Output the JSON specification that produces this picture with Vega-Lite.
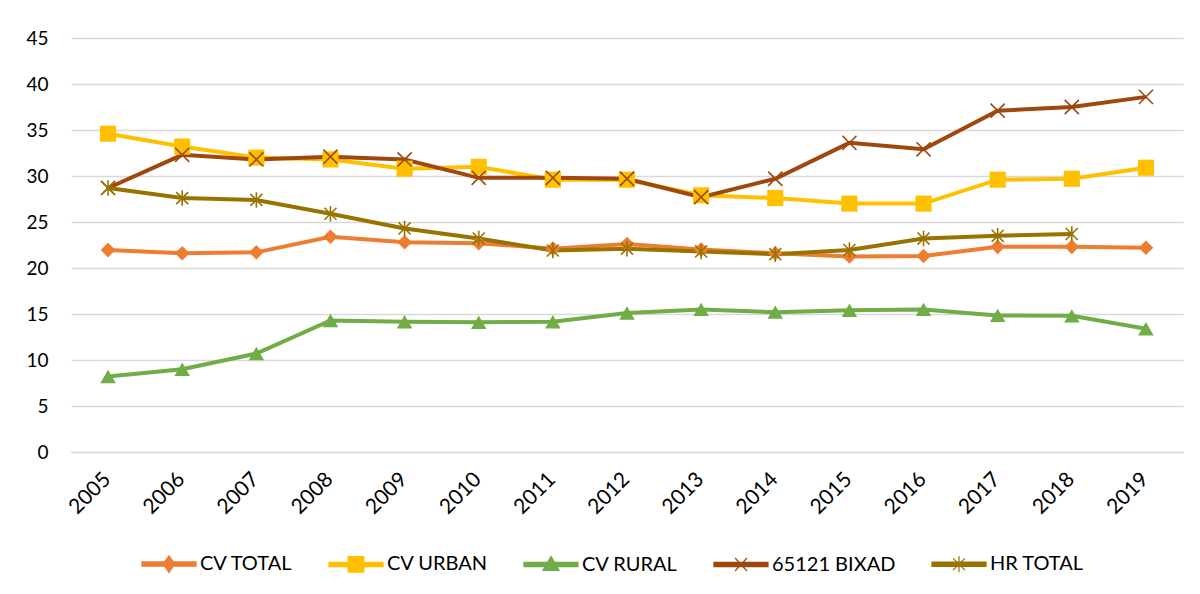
{
  "$schema": "https://vega.github.io/schema/vega-lite/v6.json",
  "width": 1112,
  "height": 414,
  "autosize": {"type": "none"},
  "padding": {"left": 71, "top": 38, "right": 17, "bottom": 142},
  "background": "white",
  "config": {
    "view": {"stroke": null},
    "font": "Lato",
    "axis": {"labelFont": "Lato", "labelColor": "#000000", "title": null}
  },
  "data": {
    "values": [
      {"year": "2005", "series": "CV TOTAL", "value": 21.95},
      {"year": "2006", "series": "CV TOTAL", "value": 21.6},
      {"year": "2007", "series": "CV TOTAL", "value": 21.7},
      {"year": "2008", "series": "CV TOTAL", "value": 23.4},
      {"year": "2009", "series": "CV TOTAL", "value": 22.8},
      {"year": "2010", "series": "CV TOTAL", "value": 22.7},
      {"year": "2011", "series": "CV TOTAL", "value": 22.1},
      {"year": "2012", "series": "CV TOTAL", "value": 22.6},
      {"year": "2013", "series": "CV TOTAL", "value": 22.0},
      {"year": "2014", "series": "CV TOTAL", "value": 21.6},
      {"year": "2015", "series": "CV TOTAL", "value": 21.25},
      {"year": "2016", "series": "CV TOTAL", "value": 21.3},
      {"year": "2017", "series": "CV TOTAL", "value": 22.3},
      {"year": "2018", "series": "CV TOTAL", "value": 22.3},
      {"year": "2019", "series": "CV TOTAL", "value": 22.2},
      {"year": "2005", "series": "CV URBAN", "value": 34.6},
      {"year": "2006", "series": "CV URBAN", "value": 33.2},
      {"year": "2007", "series": "CV URBAN", "value": 32.0},
      {"year": "2008", "series": "CV URBAN", "value": 31.8},
      {"year": "2009", "series": "CV URBAN", "value": 30.8},
      {"year": "2010", "series": "CV URBAN", "value": 31.0},
      {"year": "2011", "series": "CV URBAN", "value": 29.6},
      {"year": "2012", "series": "CV URBAN", "value": 29.6},
      {"year": "2013", "series": "CV URBAN", "value": 27.9},
      {"year": "2014", "series": "CV URBAN", "value": 27.6},
      {"year": "2015", "series": "CV URBAN", "value": 27.0},
      {"year": "2016", "series": "CV URBAN", "value": 27.0},
      {"year": "2017", "series": "CV URBAN", "value": 29.6},
      {"year": "2018", "series": "CV URBAN", "value": 29.7},
      {"year": "2019", "series": "CV URBAN", "value": 30.9},
      {"year": "2005", "series": "CV RURAL", "value": 8.2},
      {"year": "2006", "series": "CV RURAL", "value": 9.0},
      {"year": "2007", "series": "CV RURAL", "value": 10.7},
      {"year": "2008", "series": "CV RURAL", "value": 14.3},
      {"year": "2009", "series": "CV RURAL", "value": 14.15},
      {"year": "2010", "series": "CV RURAL", "value": 14.1},
      {"year": "2011", "series": "CV RURAL", "value": 14.15},
      {"year": "2012", "series": "CV RURAL", "value": 15.1},
      {"year": "2013", "series": "CV RURAL", "value": 15.5},
      {"year": "2014", "series": "CV RURAL", "value": 15.2},
      {"year": "2015", "series": "CV RURAL", "value": 15.4},
      {"year": "2016", "series": "CV RURAL", "value": 15.5},
      {"year": "2017", "series": "CV RURAL", "value": 14.85},
      {"year": "2018", "series": "CV RURAL", "value": 14.8},
      {"year": "2019", "series": "CV RURAL", "value": 13.4},
      {"year": "2005", "series": "65121 BIXAD", "value": 28.7},
      {"year": "2006", "series": "65121 BIXAD", "value": 32.3},
      {"year": "2007", "series": "65121 BIXAD", "value": 31.8},
      {"year": "2008", "series": "65121 BIXAD", "value": 32.1},
      {"year": "2009", "series": "65121 BIXAD", "value": 31.8},
      {"year": "2010", "series": "65121 BIXAD", "value": 29.8},
      {"year": "2011", "series": "65121 BIXAD", "value": 29.8},
      {"year": "2012", "series": "65121 BIXAD", "value": 29.7},
      {"year": "2013", "series": "65121 BIXAD", "value": 27.7},
      {"year": "2014", "series": "65121 BIXAD", "value": 29.7},
      {"year": "2015", "series": "65121 BIXAD", "value": 33.6},
      {"year": "2016", "series": "65121 BIXAD", "value": 32.9},
      {"year": "2017", "series": "65121 BIXAD", "value": 37.1},
      {"year": "2018", "series": "65121 BIXAD", "value": 37.5},
      {"year": "2019", "series": "65121 BIXAD", "value": 38.6},
      {"year": "2005", "series": "HR TOTAL", "value": 28.7},
      {"year": "2006", "series": "HR TOTAL", "value": 27.6},
      {"year": "2007", "series": "HR TOTAL", "value": 27.4},
      {"year": "2008", "series": "HR TOTAL", "value": 25.9},
      {"year": "2009", "series": "HR TOTAL", "value": 24.3},
      {"year": "2010", "series": "HR TOTAL", "value": 23.2},
      {"year": "2011", "series": "HR TOTAL", "value": 21.9},
      {"year": "2012", "series": "HR TOTAL", "value": 22.1},
      {"year": "2013", "series": "HR TOTAL", "value": 21.8},
      {"year": "2014", "series": "HR TOTAL", "value": 21.5},
      {"year": "2015", "series": "HR TOTAL", "value": 21.95},
      {"year": "2016", "series": "HR TOTAL", "value": 23.2},
      {"year": "2017", "series": "HR TOTAL", "value": 23.5},
      {"year": "2018", "series": "HR TOTAL", "value": 23.7}
    ]
  },
  "encoding": {
    "x": {
      "field": "year",
      "type": "ordinal",
      "scale": {"type": "point", "padding": 0.5},
      "axis": {
        "labelAngle": -45,
        "labelAlign": "right",
        "labelBaseline": "middle",
        "labelFontSize": 21,
        "labelPadding": 24,
        "labelOffset": -1,
        "ticks": false,
        "tickSize": 0,
        "domain": true,
        "domainColor": "#d9d9d9",
        "domainWidth": 1.3,
        "grid": false
      }
    },
    "y": {
      "field": "value",
      "type": "quantitative",
      "scale": {"domain": [0, 45], "nice": false},
      "axis": {
        "values": [0, 5, 10, 15, 20, 25, 30, 35, 40, 45],
        "labelFontSize": 19,
        "labelPadding": 23,
        "ticks": false,
        "tickSize": 0,
        "domain": false,
        "grid": true,
        "gridColor": "#d9d9d9",
        "gridWidth": 1.3
      }
    },
    "color": {
      "field": "series",
      "type": "nominal",
      "scale": {
        "domain": ["CV TOTAL", "CV URBAN", "CV RURAL", "65121 BIXAD", "HR TOTAL"],
        "range": ["#ED7D31", "#FFC000", "#70AD47", "#9E480E", "#997300"]
      },
      "legend": {
        "orient": "none",
        "legendX": 70,
        "legendY": 498,
        "direction": "horizontal",
        "title": null,
        "padding": 0,
        "symbolSize": 2916,
        "columnPadding": 33,
        "labelOffset": 3,
        "labelFontSize": 20,
        "labelFont": "Lato",
        "labelColor": "#000000",
        "encode": {
          "symbols": {
            "update": {
              "shape": {"signal": "datum.value === 'CV TOTAL' ? 'M-1,-0.08H1V0.08H-1ZM0,-0.31L0.22,0L0,0.31L-0.22,0Z' : datum.value === 'CV URBAN' ? 'M-1,-0.08H1V0.08H-1ZM-0.29,-0.29H0.29V0.29H-0.29Z' : datum.value === 'CV RURAL' ? 'M-1,-0.08H1V0.08H-1ZM0,-0.3L0.3,0.22H-0.3Z' : datum.value === '65121 BIXAD' ? 'M-1,-0.08H1V0.08H-1ZM-0.22,-0.24L0.22,0.24M-0.22,0.24L0.22,-0.24' : 'M-1,-0.08H1V0.08H-1ZM-0.22,-0.22L0.22,0.22M-0.22,0.22L0.22,-0.22M0,-0.3V0.3'"},
              "size": {"value": 2916},
              "fill": {"scale": "color", "field": "value"},
              "stroke": {"scale": "color", "field": "value"},
              "strokeWidth": {"value": 1.2},
              "opacity": {"value": 1},
              "fillOpacity": {"value": 1},
              "strokeOpacity": {"value": 1}
            }
          }
        }
      }
    }
  },
  "layer": [
    {"mark": {"type": "line", "strokeWidth": 4}},
    {
      "transform": [{"filter": "datum.series === 'CV TOTAL'"}],
      "mark": {"type": "point", "filled": true, "opacity": 1, "shape": "diamond", "size": 215}
    },
    {
      "transform": [{"filter": "datum.series === 'CV URBAN'"}],
      "mark": {"type": "point", "filled": true, "opacity": 1, "shape": "square", "size": 260}
    },
    {
      "transform": [{"filter": "datum.series === 'CV RURAL'"}],
      "mark": {"type": "point", "filled": true, "opacity": 1, "shape": "triangle-up", "size": 240}
    },
    {
      "transform": [{"filter": "datum.series === '65121 BIXAD'"}],
      "mark": {"type": "point", "filled": false, "opacity": 1, "strokeWidth": 1.6, "shape": "M-1,-1L1,1M-1,1L1,-1", "size": 200}
    },
    {
      "transform": [{"filter": "datum.series === 'HR TOTAL'"}],
      "mark": {"type": "point", "filled": false, "opacity": 1, "strokeWidth": 1.6, "shape": "M-0.85,-0.85L0.85,0.85M-0.85,0.85L0.85,-0.85M0,-1.1V1.1", "size": 200}
    }
  ]
}
